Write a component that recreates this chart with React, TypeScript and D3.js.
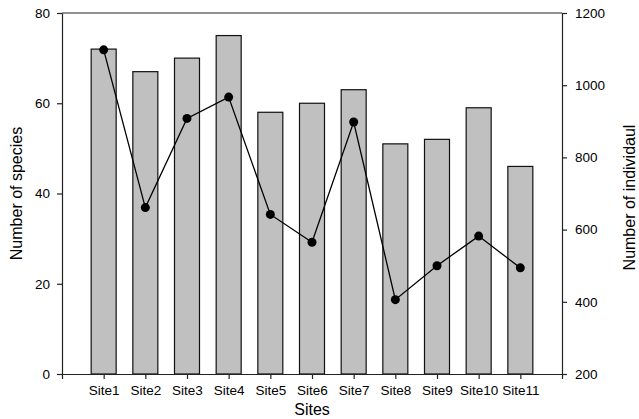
import { useEffect, useRef } from "react";
import * as d3 from "d3";

const sites = ["Site1", "Site2", "Site3", "Site4", "Site5", "Site6", "Site7", "Site8", "Site9", "Site10", "Site11"];
const species = [72, 67, 70, 75, 58, 60, 63, 51, 52, 59, 46];
const individuals = [1098, 661, 908, 967, 642, 565, 898, 406, 500, 582, 494];
const leftTicks = [0, 20, 40, 60, 80];
const rightTicks = [200, 400, 600, 800, 1000, 1200];

const W = 639;
const H = 419;
const margin = { top: 13, right: 75, bottom: 45, left: 62 };
const FONT = "'Liberation Sans', Arial, sans-serif";

export default function App() {
  const svgRef = useRef<SVGSVGElement>(null);

  useEffect(() => {
    const svg = d3.select(svgRef.current);
    svg.selectAll("*").remove();

    const left = margin.left;
    const right = W - margin.right - 2;
    const top = margin.top;
    const bottom = H - margin.bottom;

    // positions 0..12, sites sit on 1..11
    const x = d3.scaleLinear().domain([0, sites.length + 1]).range([left, right]);
    const yL = d3.scaleLinear().domain([0, 80]).range([bottom, top]);
    const yR = d3.scaleLinear().domain([200, 1200]).range([bottom, top]);
    const barW = (x(1) - x(0)) * 0.6;

    // bars
    svg.append("g")
      .selectAll("rect")
      .data(species)
      .join("rect")
      .attr("x", (d, i) => x(i + 1) - barW / 2)
      .attr("y", d => yL(d))
      .attr("width", barW)
      .attr("height", d => bottom - yL(d))
      .attr("fill", "#c0c0c0")
      .attr("stroke", "#111")
      .attr("stroke-width", 1.2);

    // line + dots
    const line = d3.line<number>()
      .x((d, i) => x(i + 1))
      .y(d => yR(d));
    svg.append("path")
      .datum(individuals)
      .attr("d", line)
      .attr("fill", "none")
      .attr("stroke", "#000")
      .attr("stroke-width", 1.3);
    svg.append("g")
      .selectAll("circle")
      .data(individuals)
      .join("circle")
      .attr("cx", (d, i) => x(i + 1))
      .attr("cy", d => yR(d))
      .attr("r", 4.5)
      .attr("fill", "#000");

    // axes
    const xAxis = d3.axisBottom(x)
      .tickValues(d3.range(0, sites.length + 2))
      .tickFormat(i => (i >= 1 && i <= sites.length ? sites[(i as number) - 1] : ""))
      .tickSize(5)
      .tickSizeOuter(0)
      .tickPadding(6);
    const gx = svg.append("g").attr("transform", `translate(0,${bottom})`).call(xAxis);

    const leftAxis = d3.axisLeft(yL).tickValues(leftTicks).tickFormat(d3.format("d")).tickSize(5).tickSizeOuter(0).tickPadding(7);
    const gl = svg.append("g").attr("transform", `translate(${left},0)`).call(leftAxis);

    const rightAxis = d3.axisRight(yR).tickValues(rightTicks).tickFormat(d3.format("d")).tickSize(5).tickSizeOuter(0).tickPadding(8);
    const gr = svg.append("g").attr("transform", `translate(${right},0)`).call(rightAxis);

    [gx, gl, gr].forEach(g => {
      g.select(".domain").attr("stroke", "#222").attr("stroke-width", 1.2);
      g.selectAll(".tick line").attr("stroke", "#222").attr("stroke-width", 1.2);
      g.selectAll(".tick text").attr("fill", "#000").style("font-family", FONT).style("font-size", "13.5px");
    });

    // top frame line
    svg.append("line")
      .attr("x1", left).attr("x2", right)
      .attr("y1", top).attr("y2", top)
      .attr("stroke", "#222").attr("stroke-width", 1.2);

    // titles
    svg.append("text")
      .attr("x", (left + right) / 2)
      .attr("y", 415)
      .attr("text-anchor", "middle")
      .style("font-family", FONT)
      .style("font-size", "16px")
      .text("Sites");
    svg.append("text")
      .attr("transform", `translate(22,${(top + bottom) / 2}) rotate(-90)`)
      .attr("text-anchor", "middle")
      .style("font-family", FONT)
      .style("font-size", "16px")
      .text("Number of species");
    svg.append("text")
      .attr("transform", `translate(635,${(top + bottom) / 2 + 4}) rotate(-90)`)
      .attr("text-anchor", "middle")
      .style("font-family", FONT)
      .style("font-size", "16px")
      .text("Number of individaul");
  }, []);

  return (
    <svg
      ref={svgRef}
      width={W}
      height={H}
      style={{ position: "absolute", left: 0, top: 0, background: "#fff" }}
    />
  );
}
